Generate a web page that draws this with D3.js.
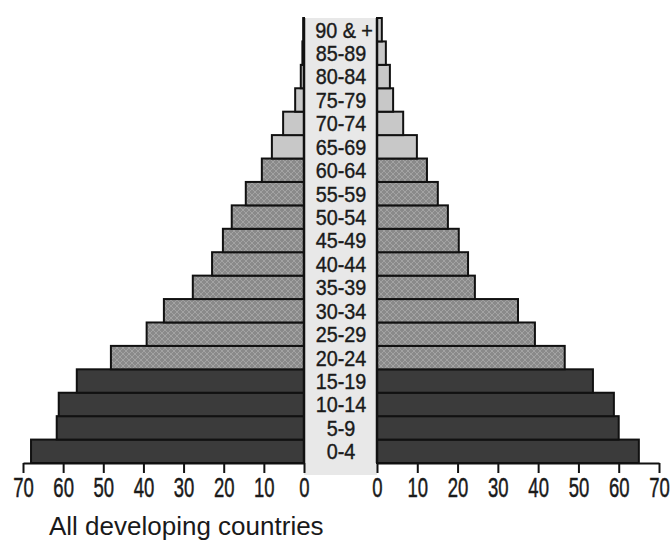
<!DOCTYPE html>
<html>
<head>
<meta charset="utf-8">
<script src="https://cdn.jsdelivr.net/npm/d3@7"></script>
<style>
  body { margin: 0; background: #fff; }
  svg { display: block; }
</style>
</head>
<body>
<div id="container"></div>
<script>
const width = 672,
  height = 544;

// age groups, youngest first
const ageGroups = ["0-4", "5-9", "10-14", "15-19", "20-24", "25-29", "30-34", "35-39", "40-44",
  "45-49", "50-54", "55-59", "60-64", "65-69", "70-74", "75-79", "80-84", "85-89", "90 & +"];
const leftValues = [68, 61.6, 61.1, 56.6, 48.1, 39.2, 34.9, 27.7, 22.9,
  20.2, 18, 14.5, 10.5, 8, 5.2, 2.2, 0.8, 0.4, 0.2];
const rightValues = [65, 60, 58.8, 53.6, 46.6, 39.2, 35, 24.3, 22.6,
  20.3, 17.6, 15.1, 12.4, 9.9, 6.5, 4, 3.2, 2.2, 1.2];
// shading band for each group: 0 = young, 1 = working age, 2 = old
const bands = [0, 0, 0, 0, 1, 1, 1, 1, 1, 1, 1, 1, 1, 2, 2, 2, 2, 2, 2];
const tickValues = [0, 10, 20, 30, 40, 50, 60, 70];
const caption = "All developing countries";

// no condensed face installed, so squeeze Liberation Sans
const labelFont = "'Liberation Sans', Arial, sans-serif";

const svg = d3.select("#container")
  .append("svg")
  .attr("width", width)
  .attr("height", height);

// pattern for the middle band
const defs = svg.append("defs");
const pat = defs.append("pattern")
  .attr("id", "dots")
  .attr("width", 6)
  .attr("height", 6)
  .attr("patternUnits", "userSpaceOnUse");
pat.append("rect").attr("width", 6).attr("height", 6).attr("fill", "#8a8a8a");
pat.append("path")
  .attr("d", "M0,3 L3,0 L6,3 L3,6 Z")
  .attr("fill", "none")
  .attr("stroke", "#a3a3a3")
  .attr("stroke-width", 1);

const fills = ["#3b3b3b", "url(#dots)", "#c8c8c8"];

// scales
const xLeft = d3.scaleLinear().domain([0, 70]).range([304, 23]);
const xRight = d3.scaleLinear().domain([0, 70]).range([377, 659]);
const y = d3.scaleBand()
  .domain(ageGroups)
  .range([463, 18])
  .padding(0);

// centre strip
svg.append("rect")
  .attr("x", xLeft(0))
  .attr("y", y.range()[1])
  .attr("width", xRight(0) - xLeft(0))
  .attr("height", y.range()[0] - y.range()[1] + 12)
  .attr("fill", "#e8e8e8");

// bars
svg.selectAll(".barL")
  .data(ageGroups)
  .join("rect")
  .attr("class", "barL")
  .attr("x", (d, i) => xLeft(leftValues[i]))
  .attr("y", d => y(d))
  .attr("width", (d, i) => xLeft(0) - xLeft(leftValues[i]))
  .attr("height", y.bandwidth())
  .attr("fill", (d, i) => fills[bands[i]])
  .attr("stroke", "#111")
  .attr("stroke-width", 2);

svg.selectAll(".barR")
  .data(ageGroups)
  .join("rect")
  .attr("class", "barR")
  .attr("x", xRight(0))
  .attr("y", d => y(d))
  .attr("width", (d, i) => xRight(rightValues[i]) - xRight(0))
  .attr("height", y.bandwidth())
  .attr("fill", (d, i) => fills[bands[i]])
  .attr("stroke", "#111")
  .attr("stroke-width", 2);

// vertical zero lines
[xLeft(0), xRight(0)].forEach(x => {
  svg.append("line")
    .attr("x1", x).attr("x2", x)
    .attr("y1", y.range()[1]).attr("y2", y.range()[0])
    .attr("stroke", "#111")
    .attr("stroke-width", 2.5);
});

// age labels
svg.selectAll(".age")
  .data(ageGroups)
  .join("text")
  .attr("class", "age")
  .attr("transform", d => `translate(${d === "90 & +" ? 344 : 341}, ${y(d) + y.bandwidth() / 2}) scale(0.9,1)`)
  .attr("dy", "0.36em")
  .attr("text-anchor", "middle")
  .style("font-family", labelFont)
  .style("font-size", "22px")
  .attr("fill", "#1a1a1a")
  .attr("stroke", "#1a1a1a")
  .attr("stroke-width", 0.4)
  .text(d => d);

// axes
const axisL = d3.axisBottom(xLeft).tickValues(tickValues).tickSize(10).tickSizeOuter(0).tickPadding(4);
const axisR = d3.axisBottom(xRight).tickValues(tickValues).tickSize(10).tickSizeOuter(0).tickPadding(4);

[axisL, axisR].forEach(ax => {
  const g = svg.append("g")
    .attr("transform", `translate(0, ${y.range()[0]})`)
    .call(ax);
  g.select(".domain").attr("stroke", "#111").attr("stroke-width", 2);
  g.selectAll(".tick line").attr("stroke", "#111").attr("stroke-width", 2);
  g.selectAll(".tick text")
    .attr("fill", "#1a1a1a")
    .attr("stroke", "#1a1a1a")
    .attr("stroke-width", 0.5)
    .style("font-family", labelFont)
    .style("font-size", "28px")
    .attr("transform", "scale(0.66,1)");
});

// caption
svg.append("text")
  .attr("x", 49)
  .attr("y", 535)
  .style("font-family", "'Liberation Sans', Arial, sans-serif")
  .style("font-size", "26px")
  .attr("fill", "#1a1a1a")
  .text(caption);
</script>
</body>
</html>
